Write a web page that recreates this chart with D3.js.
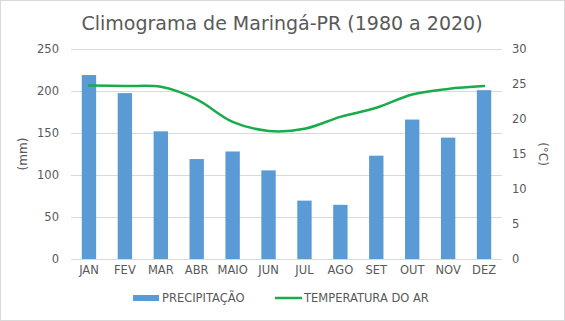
<!DOCTYPE html>
<html>
<head>
<meta charset="utf-8">
<script src="https://cdn.jsdelivr.net/npm/d3@7"></script>
<style>
  body { margin: 0; background: #fff; }
  svg { display: block; font-family: "DejaVu Sans", Verdana, sans-serif; }
</style>
</head>
<body>
<div id="chart"></div>
<script>
// Climograma: precipitação mensal (barras) e temperatura média (linha)
const months = ["JAN", "FEV", "MAR", "ABR", "MAIO", "JUN", "JUL", "AGO", "SET", "OUT", "NOV", "DEZ"];
const precipitation = [219, 197.5, 152, 119, 128, 105.5, 69.5, 64.5, 123, 166, 144.5, 201];
const temperature = [24.8, 24.7, 24.6, 22.8, 19.6, 18.3, 18.6, 20.3, 21.6, 23.5, 24.3, 24.7];
const mmTicks = [0, 50, 100, 150, 200, 250];
const tempTicks = [0, 5, 10, 15, 20, 25, 30];

const width = 565;
const height = 321;
const margin = { top: 49, right: 63, bottom: 62, left: 71 };

const svg = d3.select("#chart")
    .append("svg")
    .attr("width", width)
    .attr("height", height);

// light frame around the chart area
svg.append("rect")
    .attr("x", 0.5).attr("y", 0.5)
    .attr("width", width - 1).attr("height", height - 1)
    .attr("fill", "#fff")
    .attr("stroke", "#d9d9d9");

const x = d3.scaleBand()
    .domain(months)
    .range([margin.left, width - margin.right])
    .paddingInner(0.6)
    .paddingOuter(0.3);

const yMm = d3.scaleLinear()
    .domain([0, 250])
    .range([height - margin.bottom, margin.top]);

const yTemp = d3.scaleLinear()
    .domain([0, 30])
    .range([height - margin.bottom, margin.top]);

// gridlines
svg.append("g")
    .selectAll("line")
    .data(mmTicks)
    .join("line")
    .attr("x1", margin.left)
    .attr("x2", width - margin.right)
    .attr("y1", d => Math.round(yMm(d)) + 0.5)
    .attr("y2", d => Math.round(yMm(d)) + 0.5)
    .attr("stroke", "#d9d9d9");

// bars
svg.append("g")
    .selectAll("rect")
    .data(precipitation)
    .join("rect")
    .attr("x", (d, i) => x(months[i]))
    .attr("width", x.bandwidth())
    .attr("y", d => yMm(d))
    .attr("height", d => yMm(0) - yMm(d))
    .attr("fill", "#5b9bd5");

// temperature line
const line = d3.line()
    .x((d, i) => x(months[i]) + x.bandwidth() / 2)
    .y(d => yTemp(d))
    .curve(d3.curveCatmullRom.alpha(0.5));

svg.append("path")
    .datum(temperature)
    .attr("fill", "none")
    .attr("stroke", "#1aab4b")
    .attr("stroke-width", 2.5)
    .attr("stroke-linecap", "round")
    .attr("d", line);

// axes
const textColor = "#595959";

const leftAxis = svg.append("g")
    .attr("transform", `translate(${margin.left},0)`)
    .call(d3.axisLeft(yMm).tickValues(mmTicks).tickSize(0).tickPadding(12));

const rightAxis = svg.append("g")
    .attr("transform", `translate(${width - margin.right},0)`)
    .call(d3.axisRight(yTemp).tickValues(tempTicks).tickSize(0).tickPadding(10));

const bottomAxis = svg.append("g")
    .attr("transform", `translate(0,${height - margin.bottom})`)
    .call(d3.axisBottom(x).tickSize(0).tickPadding(7));

[leftAxis, rightAxis, bottomAxis].forEach(g => {
    g.select(".domain").remove();
    g.selectAll("text")
        .attr("fill", textColor)
        .style("font-size", "11.5px")
        .style("font-family", "\"DejaVu Sans\", Verdana, sans-serif");
});

// axis titles
svg.append("text")
    .attr("transform", `translate(27,${(margin.top + height - margin.bottom) / 2}) rotate(-90)`)
    .attr("text-anchor", "middle")
    .attr("fill", textColor)
    .style("font-size", "12px")
    .text("(mm)");

svg.append("text")
    .attr("transform", `translate(539,${(margin.top + height - margin.bottom) / 2}) rotate(90)`)
    .attr("text-anchor", "middle")
    .attr("fill", textColor)
    .style("font-size", "12px")
    .text("(°C)");

// title
svg.append("text")
    .attr("x", 282)
    .attr("y", 30)
    .attr("text-anchor", "middle")
    .attr("fill", textColor)
    .style("font-size", "19px")
    .text("Climograma de Maringá-PR (1980 a 2020)");

// legend
const legend = svg.append("g").style("font-size", "11.5px").attr("fill", textColor);

legend.append("rect")
    .attr("x", 133).attr("y", 295)
    .attr("width", 26).attr("height", 6)
    .attr("fill", "#5b9bd5");
legend.append("text")
    .attr("x", 162).attr("y", 302)
    .text("PRECIPITAÇÃO");

legend.append("line")
    .attr("x1", 275).attr("x2", 302)
    .attr("y1", 298).attr("y2", 298)
    .attr("stroke", "#1aab4b")
    .attr("stroke-width", 2.5);
legend.append("text")
    .attr("x", 304).attr("y", 302)
    .text("TEMPERATURA DO AR");
</script>
</body>
</html>
